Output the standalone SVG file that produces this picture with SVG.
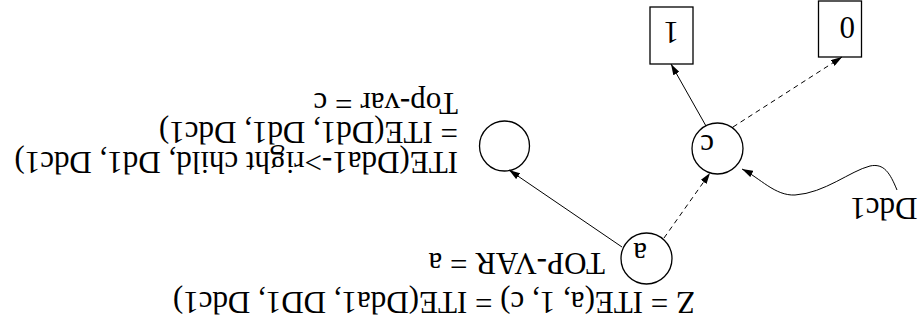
<svg xmlns="http://www.w3.org/2000/svg" width="920" height="333" viewBox="0 0 920 333">
<style>
text{font-family:"Liberation Serif","Times New Roman",serif;font-size:31px;fill:#000}
.n{fill:none;stroke:#000;stroke-width:1.3}
.e{fill:none;stroke:#000;stroke-width:1}
.d{stroke-dasharray:5 4}
</style>
<defs>
<marker id="ah" viewBox="0 0 11 7" refX="11" refY="3.5" markerWidth="11" markerHeight="7" markerUnits="userSpaceOnUse" orient="auto">
<path d="M0,0 L11,3.5 L0,7 z" fill="#000"/>
</marker>
</defs>
<rect width="920" height="333" fill="#fff"/>
<g transform="rotate(180 460 166.5)">
<g id="connectors">
<line class="e" x1="298" y1="86" x2="411" y2="163" marker-end="url(#ah)"/>
<line class="e d" x1="256" y1="95" x2="210" y2="160" marker-end="url(#ah)"/>
<line class="e" x1="214" y1="207" x2="249" y2="269" marker-end="url(#ah)"/>
<line class="e d" x1="187" y1="206" x2="78" y2="276" marker-end="url(#ah)"/>
<path class="e" d="M23,143 C30,160 36,170 50,167 C70,162 95,140 125,138 C145,137 160,155 178,164" marker-end="url(#ah)"/>
</g>
<g id="node-a">
<circle class="n" cx="273.5" cy="74.5" r="25.5"/>
<text x="273" y="90">a</text>
</g>
<g id="node-c">
<circle class="n" cx="202.5" cy="184.5" r="25.5"/>
<text x="206" y="198">c</text>
</g>
<g id="node-right">
<circle class="n" cx="415.5" cy="187" r="25"/>
</g>
<g id="node-0">
<rect class="n" x="58.5" y="276" width="43" height="56"/>
<text x="65" y="316">0</text>
</g>
<g id="node-1">
<rect class="n" x="227" y="269" width="43" height="57"/>
<text x="241" y="311">1</text>
</g>
<g id="label-ddc1">
<text x="2.5" y="135">Ddc1</text>
</g>
<g id="label-z">
<text x="225" y="41">Z = ITE(a, 1, c) = ITE(Dda1, DD1, Ddc1)</text>
</g>
<g id="label-topvar-a">
<text x="315" y="80">TOP-VAR = a</text>
</g>
<g id="label-right">
<text x="462" y="181">ITE(Dda1-&gt;right child, Dd1, Ddc1)</text>
<text x="462" y="211">= ITE(Dd1, Dd1, Ddc1)</text>
<text x="462" y="240">Top-var = c</text>
</g>
</g>
</svg>
